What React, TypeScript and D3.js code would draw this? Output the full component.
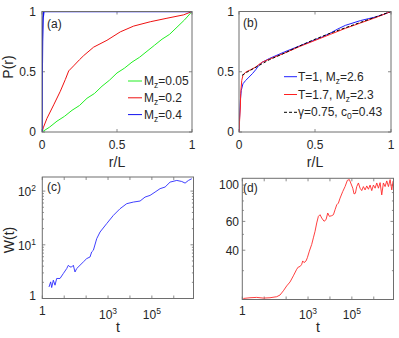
import React from 'react';
import * as d3 from 'd3';

const FONT = '"Liberation Sans", Arial, Helvetica, sans-serif';
const AXIS = '#6e6e6e';
const TEXT = '#262626';

// (a) P(r) against r/L for three Mz
const rGreen = [0, 0.05, 0.1, 0.15, 0.2, 0.25, 0.3, 0.35, 0.4, 0.45, 0.5, 0.55, 0.6, 0.65, 0.7, 0.75, 0.8, 0.85, 0.9, 0.95, 1];
const pGreen = [0, 0.04, 0.09, 0.13, 0.18, 0.22, 0.28, 0.32, 0.38, 0.43, 0.49, 0.53, 0.58, 0.62, 0.67, 0.72, 0.77, 0.81, 0.87, 0.93, 1];
const rRed = [0, 0.01, 0.033, 0.078, 0.122, 0.156, 0.178, 0.211, 0.25, 0.278, 0.344, 0.433, 0.522, 0.611, 0.722, 0.833, 0.944, 1];
const pRed = [0, 0.04, 0.113, 0.225, 0.338, 0.437, 0.507, 0.549, 0.6, 0.634, 0.704, 0.761, 0.831, 0.879, 0.915, 0.944, 0.972, 1];
const rBlue = [0, 0.001, 0.003, 0.007, 0.012, 1];
const pBlue = [0, 0.5, 0.75, 0.95, 1, 1];
const legendA = ['0.05', '0.2', '0.4'];

// (b) two temperatures and the fit
const rT1 = [0, 0.004, 0.009, 0.015, 0.026, 0.044, 0.066, 0.088, 0.11, 0.13, 0.154, 0.2, 0.3, 0.4, 0.5, 0.55, 0.6, 0.65, 0.7, 0.75, 0.8, 0.85, 0.9, 0.95, 1];
const pT1 = [0, 0.124, 0.263, 0.345, 0.4, 0.428, 0.456, 0.484, 0.517, 0.552, 0.58, 0.61, 0.665, 0.715, 0.765, 0.79, 0.82, 0.855, 0.885, 0.905, 0.925, 0.94, 0.955, 0.975, 1];
const rT17 = [0, 0.004, 0.009, 0.011, 0.018, 0.026, 0.044, 0.077, 0.11, 0.13, 0.154, 0.2, 0.3, 0.4, 0.5, 0.6, 0.7, 0.8, 0.9, 1];
const pT17 = [0, 0.097, 0.207, 0.318, 0.428, 0.47, 0.497, 0.517, 0.539, 0.56, 0.58, 0.605, 0.655, 0.71, 0.76, 0.81, 0.86, 0.905, 0.95, 1];
const rFit = [0.02, 0.05, 0.1, 0.15, 0.2, 0.3, 0.4, 0.5, 0.6, 0.7, 0.8, 0.9, 1];
const pFit = [0.47, 0.495, 0.53, 0.565, 0.6, 0.655, 0.715, 0.77, 0.82, 0.865, 0.91, 0.955, 1];

// (c) W(t), log-log
const tC = [2.02, 2.41, 2.68, 3.19, 3.8, 4.53, 6.43, 9.12, 13.0, 15.5, 18.4, 21.9, 26.1, 31.1, 37.1, 52.6, 74.8, 106, 151, 179, 214, 304, 432, 869, 1750, 3530, 7110, 14400, 28900, 48900, 82800, 140000, 237000, 401000, 678000, 1370000, 2310000, 3280000, 4670000, 6620000];
const wC = [1.64, 2.04, 1.6, 2.19, 1.77, 2.36, 2.36, 2.92, 3.61, 4.16, 3.87, 3.87, 4.16, 3.12, 3.61, 4.16, 4.8, 5.53, 5.94, 7.36, 7.91, 13.0, 17.3, 24.8, 35.3, 47.0, 58.3, 62.5, 65.3, 77.4, 83.2, 95.9, 111, 119, 147, 158, 151, 141, 158, 170];

// (d)
const tD = [1.11, 2.25, 4.53, 9.12, 18.4, 37.1, 52.6, 74.8, 106, 151, 214, 304, 362, 432, 514, 571, 657, 811, 932, 1150, 1470, 1750, 2090, 2490, 2970, 3530, 4210, 5380, 6640, 7910, 9420, 12000, 14400, 17100, 20400, 24300, 28900, 38300, 48900, 62500, 77100, 88700, 110000, 126000, 145000, 167000, 199000, 237000, 282000, 336000, 401000, 478000, 569000, 678000, 807000, 962000, 1150000, 1370000, 1630000, 1940000, 2310000, 2750000, 3280000, 3910000, 4670000, 5560000, 6620000, 7600000];
const wD = [20.3, 20.5, 20.6, 20.4, 20.5, 20.8, 21.3, 22.6, 24.2, 25.6, 27.9, 30.6, 31.6, 31.8, 32.8, 34.4, 33.6, 34.4, 36.0, 39.5, 43.4, 47.6, 52.2, 58.7, 64.4, 65.9, 62.9, 60.1, 61.5, 67.5, 64.4, 65.0, 65.9, 70.7, 75.8, 77.6, 83.2, 91.3, 97.9, 107, 108, 103, 95.7, 88.3, 89.1, 97.9, 103, 95.7, 92.5, 97.9, 93.4, 98.8, 94.3, 100, 92.5, 100, 95.7, 103, 95.7, 103.5, 87.1, 103, 97.9, 106, 97.9, 108, 93.4, 106];

const linTicks = [0, 0.5, 1];
const linLabels = ['0', '0.5', '1'];
const decades = [1, 10, 100, 1e3, 1e4, 1e5, 1e6];
const tLabelled = [1, 1e3, 1e5];
const wMajor = [1, 10, 100];
const wMinor = [2, 3, 4, 5, 6, 7, 8, 9, 20, 30, 40, 50, 60, 70, 80, 90];
const dMajor = [40, 60, 100];
const dMinor = [20, 30, 50, 70, 80, 90];

type Scale = (v: number) => number;

const path = (xs: number[], ys: number[], sx: Scale, sy: Scale) =>
  d3.line()(xs.map((v, i) => [sx(v), sy(ys[i])] as [number, number])) || '';

function Ticks({ sx, sy, xt, yt, len }: { sx: any; sy: any; xt: number[]; yt: number[]; len: number }) {
  const [x0, x1] = sx.range();
  const [y0, y1] = sy.range();
  return (
    <g stroke={AXIS} strokeWidth={0.8}>
      {xt.map((t, i) => (
        <g key={'x' + i}>
          <line x1={sx(t)} x2={sx(t)} y1={y0} y2={y0 - len} />
          <line x1={sx(t)} x2={sx(t)} y1={y1} y2={y1 + len} />
        </g>
      ))}
      {yt.map((t, i) => (
        <g key={'y' + i}>
          <line x1={x0} x2={x0 + len} y1={sy(t)} y2={sy(t)} />
          <line x1={x1} x2={x1 - len} y1={sy(t)} y2={sy(t)} />
        </g>
      ))}
    </g>
  );
}

function Frame({ sx, sy }: { sx: any; sy: any }) {
  const [x0, x1] = sx.range();
  const [y0, y1] = sy.range();
  return <rect x={x0} y={y1} width={x1 - x0} height={y0 - y1} fill="none" stroke={AXIS} strokeWidth={1} />;
}

function Pow({ x, y, e, anchor }: { x: number; y: number; e: number; anchor: string }) {
  if (e === 0) return <text x={x} y={y - 4} textAnchor={anchor}>1</text>;
  return (
    <text x={x} y={y} textAnchor={anchor}>
      10<tspan dy={-5} fontSize={8.5}>{e}</tspan>
    </text>
  );
}

function Clip({ id, sx, sy }: { id: string; sx: any; sy: any }) {
  const [x0, x1] = sx.range();
  const [y0, y1] = sy.range();
  return (
    <clipPath id={id}>
      <rect x={x0} y={y1} width={x1 - x0} height={y0 - y1} />
    </clipPath>
  );
}

export default function App() {
  const xa = d3.scaleLinear().domain([0, 1]).range([42, 192]);
  const ya = d3.scaleLinear().domain([0, 1]).range([132, 11.5]);
  const xb = d3.scaleLinear().domain([0, 1]).range([239, 391]);
  const yb = d3.scaleLinear().domain([0, 1]).range([132, 11.5]);
  const xc = d3.scaleLog().domain([1, Math.pow(10, 6.9)]).range([42.3, 193.5]);
  const yc = d3.scaleLog().domain([1, 183]).range([298.5, 177]);
  const xd = d3.scaleLog().domain([1, Math.pow(10, 6.9)]).range([242.3, 393.5]);
  const yd = d3.scaleLog().domain([20, 110]).range([299.5, 178.3]);

  const legB = [
    { color: '#2020ff', dash: undefined, pre: 'T=1, M', sub: 'z', post: '=2.6' },
    { color: '#ff2020', dash: undefined, pre: 'T=1.7, M', sub: 'z', post: '=2.3' },
    { color: '#000000', dash: '3,2', pre: '\u03b3=0.75, c', sub: '0', post: '=0.43' },
  ];
  const colA = ['#22ee22', '#ee1111', '#1111ee'];

  return (
    <svg width={399} height={338} style={{ position: 'absolute', left: 0, top: 0 }} fontFamily={FONT} fill={TEXT}>
      <rect width={399} height={338} fill="#ffffff" />
      <defs>
        <Clip id="ca" sx={xa} sy={ya} />
        <Clip id="cb" sx={xb} sy={yb} />
        <Clip id="cc" sx={xc} sy={yc} />
        <Clip id="cd" sx={xd} sy={yd} />
      </defs>

      {/* (a) */}
      <Ticks sx={xa} sy={ya} xt={linTicks} yt={linTicks} len={3} />
      <g clipPath="url(#ca)" fill="none" strokeWidth={1}>
        <path d={path(rGreen, pGreen, xa, ya)} stroke={colA[0]} />
        <path d={path(rRed, pRed, xa, ya)} stroke={colA[1]} />
        <path d={path(rBlue, pBlue, xa, ya)} stroke={colA[2]} strokeWidth={1.6} />
      </g>
      <Frame sx={xa} sy={ya} />
      <g fontSize={12}>
        {linTicks.map((t, i) => (
          <text key={'ax' + i} x={xa(t)} y={149} textAnchor="middle">{linLabels[i]}</text>
        ))}
        {linTicks.map((t, i) => (
          <text key={'ay' + i} x={36} y={ya(t) + 4.3} textAnchor="end">{linLabels[i]}</text>
        ))}
        <text x={47} y={28}>(a)</text>
        {legendA.map((v, i) => (
          <g key={'la' + i}>
            <line x1={128} x2={142} y1={81 + i * 16.8} y2={81 + i * 16.8} stroke={colA[i]} strokeWidth={1} />
            <text x={144} y={85 + i * 16.8}>
              M<tspan dy={3} fontSize={8.5}>z</tspan><tspan dy={-3}>={v}</tspan>
            </text>
          </g>
        ))}
      </g>
      <text x={117} y={166.5} textAnchor="middle" fontSize={14}>r/L</text>
      <text transform="translate(13,67) rotate(-90)" textAnchor="middle" fontSize={14}>P(r)</text>

      {/* (b) */}
      <Ticks sx={xb} sy={yb} xt={linTicks} yt={linTicks} len={3} />
      <g clipPath="url(#cb)" fill="none" strokeWidth={1}>
        <path d={path(rT1, pT1, xb, yb)} stroke={legB[0].color} />
        <path d={path(rT17, pT17, xb, yb)} stroke={legB[1].color} />
        <path d={path(rFit, pFit, xb, yb)} stroke="#000" strokeDasharray="3,2" />
      </g>
      <Frame sx={xb} sy={yb} />
      <g fontSize={12}>
        {linTicks.map((t, i) => (
          <text key={'bx' + i} x={xb(t)} y={149} textAnchor="middle">{linLabels[i]}</text>
        ))}
        {linTicks.map((t, i) => (
          <text key={'by' + i} x={234} y={yb(t) + 4.3} textAnchor="end">{linLabels[i]}</text>
        ))}
        <text x={243} y={27}>(b)</text>
        {legB.map((l, i) => (
          <g key={'lb' + i}>
            <line x1={284} x2={297} y1={76.7 + i * 17.8} y2={76.7 + i * 17.8} stroke={l.color} strokeDasharray={l.dash} strokeWidth={1} />
            <text x={298} y={80.7 + i * 17.8}>
              {l.pre}<tspan dy={3} fontSize={8.5}>{l.sub}</tspan><tspan dy={-3}>{l.post}</tspan>
            </text>
          </g>
        ))}
      </g>
      <text x={315} y={166.5} textAnchor="middle" fontSize={14}>r/L</text>

      {/* (c) */}
      <Ticks sx={xc} sy={yc} xt={decades} yt={wMajor} len={3} />
      <Ticks sx={xc} sy={yc} xt={[]} yt={wMinor} len={1.6} />
      <g clipPath="url(#cc)" fill="none">
        <path d={path(tC, wC, xc, yc)} stroke="#2a2aff" strokeWidth={0.9} />
      </g>
      <Frame sx={xc} sy={yc} />
      <g fontSize={12}>
        {tLabelled.map((t, i) => (
          <Pow key={'cx' + i} x={xc(t)} y={319} e={Math.round(Math.log10(t))} anchor="middle" />
        ))}
        {wMajor.map((t, i) => (
          <Pow key={'cy' + i} x={36} y={yc(t) + 5} e={Math.round(Math.log10(t))} anchor="end" />
        ))}
        <text x={47} y={191}>(c)</text>
      </g>
      <text x={118} y={332} textAnchor="middle" fontSize={14}>t</text>
      <text transform="translate(14,240) rotate(-90)" textAnchor="middle" fontSize={14}>W(t)</text>

      {/* (d) */}
      <Ticks sx={xd} sy={yd} xt={decades} yt={dMajor} len={3} />
      <Ticks sx={xd} sy={yd} xt={[]} yt={dMinor} len={1.6} />
      <g clipPath="url(#cd)" fill="none">
        <path d={path(tD, wD, xd, yd)} stroke="#ff2a2a" strokeWidth={0.9} />
      </g>
      <Frame sx={xd} sy={yd} />
      <g fontSize={12}>
        {tLabelled.map((t, i) => (
          <Pow key={'dx' + i} x={xd(t)} y={319} e={Math.round(Math.log10(t))} anchor="middle" />
        ))}
        {dMajor.map((t, i) => (
          <text key={'dy' + i} x={239} y={yd(t) + 4.3} textAnchor="end">{t}</text>
        ))}
        <text x={243} y={192}>(d)</text>
      </g>
      <text x={318} y={332} textAnchor="middle" fontSize={14}>t</text>
    </svg>
  );
}
